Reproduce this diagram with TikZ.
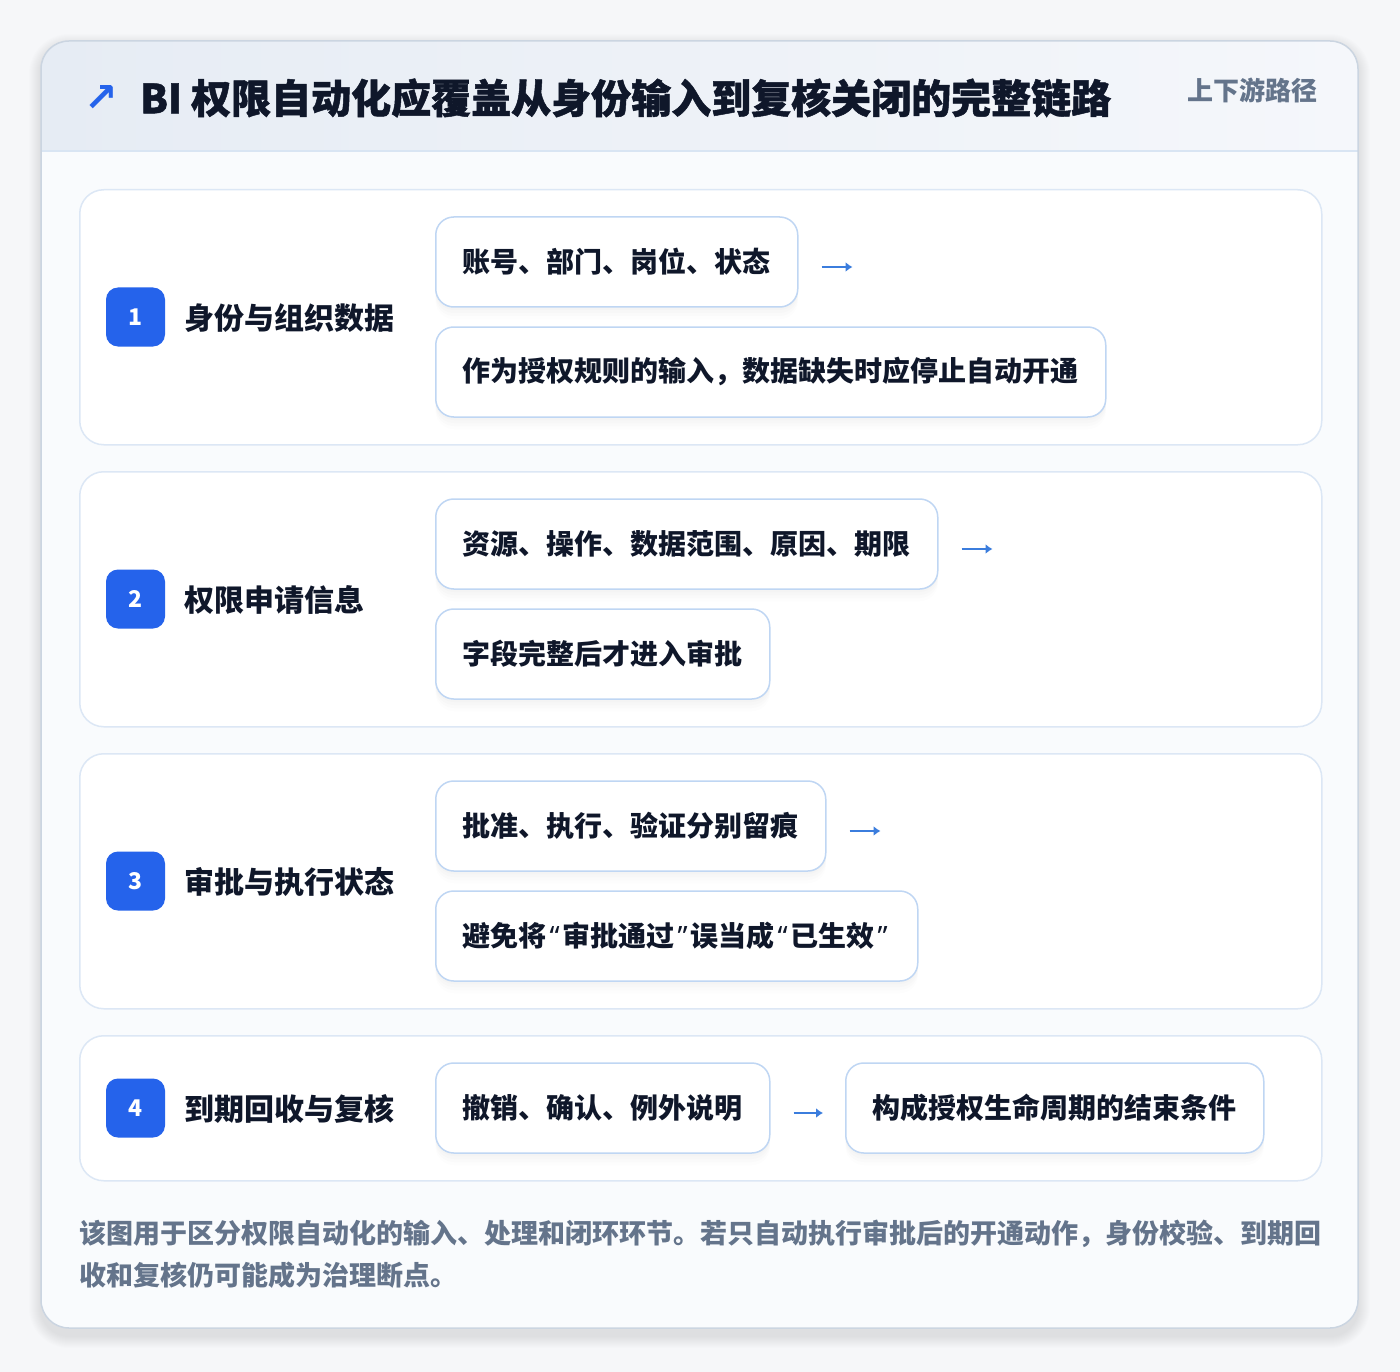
\documentclass[tikz,border=0pt]{standalone}
\usepackage{fontspec}
\setmainfont{Noto Sans CJK SC}
\newfontfamily\heavy{Noto Sans CJK SC}[BoldFeatures={FakeBold=1.2}]
\newfontfamily\latinq{Noto Sans}
\newfontfamily\dejavu{DejaVu Sans}
\usetikzlibrary{shadows,arrows.meta}
\definecolor{pagebg}{HTML}{F6F7F9}
\definecolor{ink}{HTML}{0F172A}
\definecolor{subgray}{HTML}{64748B}
\definecolor{badgeblue}{HTML}{2563EB}
\definecolor{arrblue}{HTML}{3B7DDD}
\definecolor{boxborder}{HTML}{BFD6F3}
\definecolor{rowborder}{HTML}{DCE7F5}
\definecolor{cardborder}{HTML}{CBD5E1}
\definecolor{hdrL}{HTML}{E6ECF4}
\definecolor{hdrR}{HTML}{F5F7FB}
\definecolor{hdrline}{HTML}{D9E5F3}
\definecolor{cardbg}{HTML}{F9FBFD}
\newcommand{\myLQ}{\makebox[16pt][c]{\latinq\bfseries “}}
\newcommand{\myRQ}{\makebox[16pt][c]{\latinq\bfseries ”}}
\tikzset{
  rowcard/.style={draw=rowborder, line width=1.5pt, fill=white, rounded corners=24pt, anchor=north west, minimum width=1242pt, inner sep=0pt},
  badge/.style={fill=badgeblue, rounded corners=12pt, minimum size=59pt, inner sep=0pt, text=white, font=\fontsize{23}{26}\selectfont\bfseries},
  lbl/.style={anchor=west, inner sep=0pt, text=ink, font=\fontsize{30}{36}\selectfont\bfseries},
  item/.style={draw=boxborder, line width=1.5pt, fill=white, rounded corners=18pt, minimum height=90pt, inner xsep=27pt, inner ysep=0pt, anchor=west, text=ink, font=\fontsize{28}{34}\selectfont\bfseries,
    drop shadow={opacity=0.02, shadow xshift=0pt, shadow yshift=-3pt},
    drop shadow={opacity=0.02, shadow xshift=0pt, shadow yshift=-6pt},
    drop shadow={opacity=0.02, shadow xshift=0pt, shadow yshift=-9pt},
    drop shadow={opacity=0.015, shadow xshift=0pt, shadow yshift=-12pt}},
  arrowline/.style={draw=arrblue, line width=2.5pt, -{Latex[length=7pt,width=10pt]}},
}
\begin{document}
\begin{tikzpicture}[x=1pt,y=-1pt]
\useasboundingbox[fill=pagebg] (0,0) rectangle (1400,1372);
% card shadow
\foreach \i in {1,...,12}{
  \fill[black, opacity=0.008, rounded corners=28pt+\i pt] (41-\i,41-\i+5) rectangle (1358+\i,1328+\i+8);
}
\fill[cardbg, rounded corners=28pt] (41,41) rectangle (1358,1328);
\begin{scope}
  \clip[rounded corners=28pt] (41,41) rectangle (1358,1328);
  \fill[left color=hdrL, right color=hdrR] (41,41) rectangle (1358,151);
\end{scope}
\draw[hdrline, line width=1.5pt] (41,151) -- (1358,151);
\draw[cardborder, line width=1.5pt, rounded corners=28pt] (41,41) rectangle (1358,1328);

% header
\node[text=badgeblue, font=\dejavu\fontsize{40}{44}\selectfont\bfseries, inner sep=0pt] (icon) at (101,99) {↗};
\node[anchor=west, inner sep=0pt, text=ink, font=\heavy\fontsize{40}{46}\selectfont\bfseries] (title) at (140,98) {BI 权限自动化应覆盖从身份输入到复核关闭的完整链路};
\node[anchor=east, inner sep=0pt, text=subgray, font=\fontsize{26}{30}\selectfont\bfseries] (tag) at (1318,90) {上下游路径};

% row 1
\node[rowcard, minimum height=255pt] (r1) at (79,189) {};
\node[badge] (b1) at (135.5,317) {1};
\node[lbl] (l1) at (184,318) {身份与组织数据};
\node[item] (a1) at (435,262) {账号、部门、岗位、状态};
\node[item] (c1) at (435,372) {作为授权规则的输入，数据缺失时应停止自动开通};
\coordinate (s1) at ([xshift=23pt,yshift=-5pt]a1.east);
\coordinate (e1) at ([xshift=54pt,yshift=-5pt]a1.east);
\draw[arrowline] (s1) -- (e1);

% row 2
\node[rowcard, minimum height=255pt] (r2) at (79,471) {};
\node[badge] (b2) at (135.5,599) {2};
\node[lbl] (l2) at (184,600) {权限申请信息};
\node[item] (a2) at (435,544) {资源、操作、数据范围、原因、期限};
\node[item] (c2) at (435,654) {字段完整后才进入审批};
\coordinate (s2) at ([xshift=23pt,yshift=-5pt]a2.east);
\coordinate (e2) at ([xshift=54pt,yshift=-5pt]a2.east);
\draw[arrowline] (s2) -- (e2);

% row 3
\node[rowcard, minimum height=255pt] (r3) at (79,753) {};
\node[badge] (b3) at (135.5,881) {3};
\node[lbl] (l3) at (184,882) {审批与执行状态};
\node[item] (a3) at (435,826) {批准、执行、验证分别留痕};
\node[item] (c3) at (435,936) {避免将\myLQ 审批通过\myRQ 误当成\myLQ 已生效\myRQ};
\coordinate (s3) at ([xshift=23pt,yshift=-5pt]a3.east);
\coordinate (e3) at ([xshift=54pt,yshift=-5pt]a3.east);
\draw[arrowline] (s3) -- (e3);

% row 4
\node[rowcard, minimum height=145pt] (r4) at (79,1035) {};
\node[badge] (b4) at (135.5,1108) {4};
\node[lbl] (l4) at (184,1109) {到期回收与复核};
\node[item] (a4) at (435,1108) {撤销、确认、例外说明};
\node[item] (c4) at (845,1108) {构成授权生命周期的结束条件};
\draw[arrowline, shorten <=23pt, shorten >=22pt, transform canvas={yshift=-5pt}] (a4) -- (c4);

% footer
\node[anchor=north west, align=left, inner sep=0pt, text=subgray, font=\fontsize{27}{42}\selectfont\bfseries] (foot) at (79,1220) {该图用于区分权限自动化的输入、处理和闭环环节。若只自动执行审批后的开通动作，身份校验、到期回\\收和复核仍可能成为治理断点。};
\end{tikzpicture}
\end{document}
